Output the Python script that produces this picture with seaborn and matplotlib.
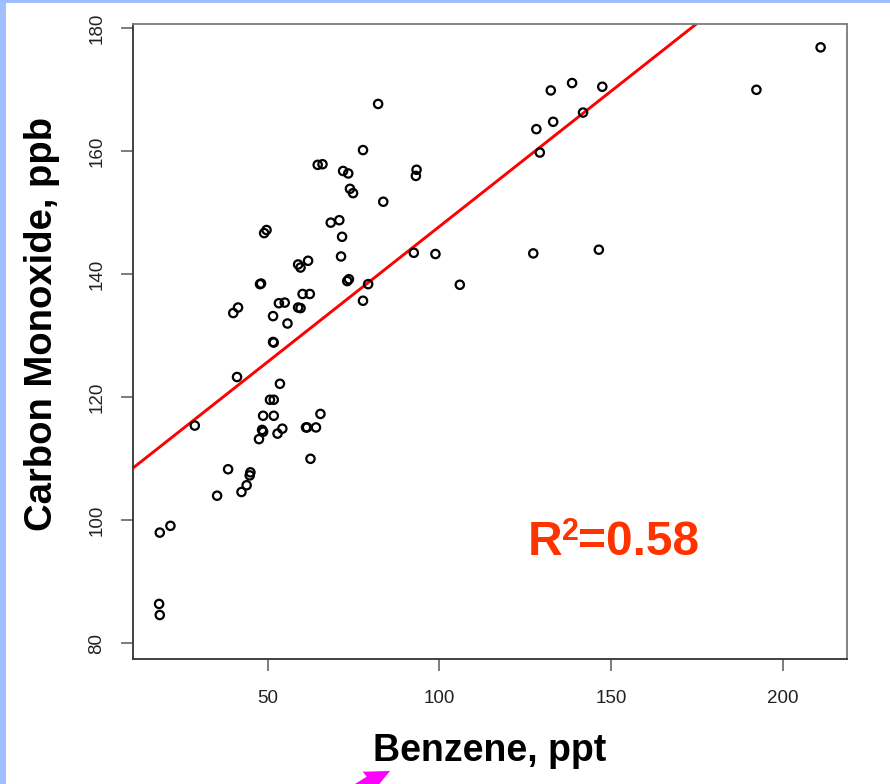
import matplotlib
matplotlib.use("Agg")
import matplotlib.pyplot as plt
from matplotlib.patches import Rectangle, Polygon
from matplotlib.transforms import offset_copy
import numpy as np
import pandas as pd
import seaborn as sns

# Benzene (ppt) and carbon monoxide (ppb) samples
benzene = [82.2, 77.8, 64.6, 66.0, 72.0, 73.5, 74.0, 74.9, 49.0, 49.7,
           68.4, 70.9, 71.7, 71.4, 58.9, 59.6, 61.8, 47.8, 48.1, 73.2,
           73.7, 79.3, 77.8, 40.0, 41.4, 51.6, 53.3, 55.0, 58.9, 59.6,
           60.2, 62.3, 55.8, 51.6, 51.8, 41.1, 53.6, 50.7, 51.8, 48.7,
           51.8, 65.4, 28.8, 48.4, 48.7, 47.5, 54.3, 52.9, 61.2, 61.5,
           64.1, 62.5, 38.5, 45.0, 44.8, 43.9, 42.4, 35.3, 18.6, 21.7,
           18.4, 18.6, 93.4, 93.2, 83.7, 92.6, 98.9, 127.4, 146.5, 106.0,
           128.3, 129.3, 133.2, 132.5, 138.7, 147.5, 141.9, 192.4, 211.1]
carbon_monoxide = [167.7, 160.2, 157.8, 157.9, 156.8, 156.4, 153.9, 153.2, 146.7, 147.2,
                   148.4, 148.8, 146.1, 142.9, 141.6, 141.1, 142.2, 138.4, 138.5, 138.9,
                   139.2, 138.4, 135.7, 133.7, 134.6, 133.2, 135.3, 135.4, 134.6, 134.5,
                   136.8, 136.8, 132.0, 129.0, 128.9, 123.3, 122.2, 119.6, 119.6, 117.0,
                   117.0, 117.3, 115.4, 114.7, 114.4, 113.2, 114.9, 114.1, 115.1, 115.1,
                   115.1, 110.0, 108.3, 107.8, 107.3, 105.7, 104.6, 104.0, 98.0, 99.1,
                   86.4, 84.6, 157.0, 156.0, 151.8, 143.5, 143.3, 143.4, 144.0, 138.3,
                   163.6, 159.8, 164.8, 169.9, 171.1, 170.5, 166.3, 170.0, 176.9]

# Least-squares line and its coefficient of determination
fit_intercept = 103.75
fit_slope = 0.44
r_squared = 0.58

x_ticks = [50, 100, 150, 200]
y_ticks = [80, 100, 120, 140, 160, 180]

df = pd.DataFrame({"benzene": benzene, "co": carbon_monoxide})

sns.set_theme(style="white")
plt.rcParams["font.family"] = ["Liberation Sans", "DejaVu Sans"]

fig = plt.figure(figsize=(8.9, 7.84), dpi=100)
fig.patch.set_facecolor("white")

# slide frame strips
fig.patches.append(Rectangle((0, 0), 6 / 890, 1, transform=fig.transFigure,
                             facecolor="#a0c0ff", edgecolor="none", zorder=0))
fig.patches.append(Rectangle((0, 1 - 3 / 784), 1, 3 / 784, transform=fig.transFigure,
                             facecolor="#9dbdff", edgecolor="none", zorder=0))
# magenta arrow tip poking in at the bottom
arrow_px = [(362.7, 771.7), (390, 771), (379.3, 784), (355, 784), (366.7, 776.7)]
fig.patches.append(Polygon([(x / 890, 1 - y / 784) for x, y in arrow_px], closed=True,
                           transform=fig.transFigure, facecolor="#ff00ff",
                           edgecolor="none", zorder=1))

ax = fig.add_axes([133 / 890, 1 - 659.3 / 784, (846.7 - 133) / 890, (659.3 - 24) / 784])
ax.set_facecolor("white")

sns.scatterplot(data=df, x="benzene", y="co", ax=ax, marker="o", s=36,
                color="black", linewidth=1.6, zorder=3, legend=False)
for coll in ax.collections:
    coll.set_facecolor("none")
    coll.set_edgecolor("black")

ax.axline((0, fit_intercept), slope=fit_slope, color="#ff0000", linewidth=2.1, zorder=2)

ax.set_xlim(10.8, 218.7)
ax.set_ylim(77.4, 180.7)
ax.set_xticks(x_ticks)
ax.set_yticks(y_ticks)
ax.set_xticklabels([str(t) for t in x_ticks])
ax.set_yticklabels([str(t) for t in y_ticks])

ax.tick_params(axis="both", which="major", direction="out", length=8.8, width=1.2,
               color="#666666", labelsize=13.5, labelcolor="#222222", bottom=True, left=True)
ax.tick_params(axis="x", pad=13)
ax.tick_params(axis="y", pad=11, labelrotation=90)
for lab in ax.get_yticklabels():
    lab.set_va("center")

for side in ["left", "bottom"]:
    ax.spines[side].set_color("#333333")
    ax.spines[side].set_linewidth(1.3)
for side in ["top", "right"]:
    ax.spines[side].set_color("#7a7a7a")
    ax.spines[side].set_linewidth(1.3)

ax.set_xlabel("")
ax.set_ylabel("")

fig.text(489.5 / 890, 1 - 751 / 784, "Benzene, ppt", ha="center", va="center",
         fontsize=27, fontweight="bold", color="black")
fig.text(42 / 890, 1 - 324 / 784, "Carbon Monoxide, ppb", ha="center", va="center",
         rotation=90, fontsize=27.5, fontweight="bold", color="black")

# R² annotation: base letter, raised exponent, then the value
r_x, r_y = 125.8, 94.4
r_color = "#ff3300"
r_style = dict(fontweight="bold", color=r_color, va="baseline", ha="left", zorder=4)
renderer = fig.canvas.get_renderer()
t_r = ax.text(r_x, r_y, "R", fontsize=34.5, **r_style)
w_r = t_r.get_window_extent(renderer).width
sup_tr = offset_copy(ax.transData, fig=fig, x=w_r, y=15, units="dots")
t_2 = ax.text(r_x, r_y, "2", fontsize=22, transform=sup_tr, **r_style)
w_2 = t_2.get_window_extent(renderer).width
val_tr = offset_copy(ax.transData, fig=fig, x=w_r + w_2 - 1, y=0, units="dots")
ax.text(r_x, r_y, f"={r_squared:.2f}", fontsize=34.5, transform=val_tr, **r_style)

fig.savefig("out.png", dpi=100, facecolor=fig.get_facecolor())
